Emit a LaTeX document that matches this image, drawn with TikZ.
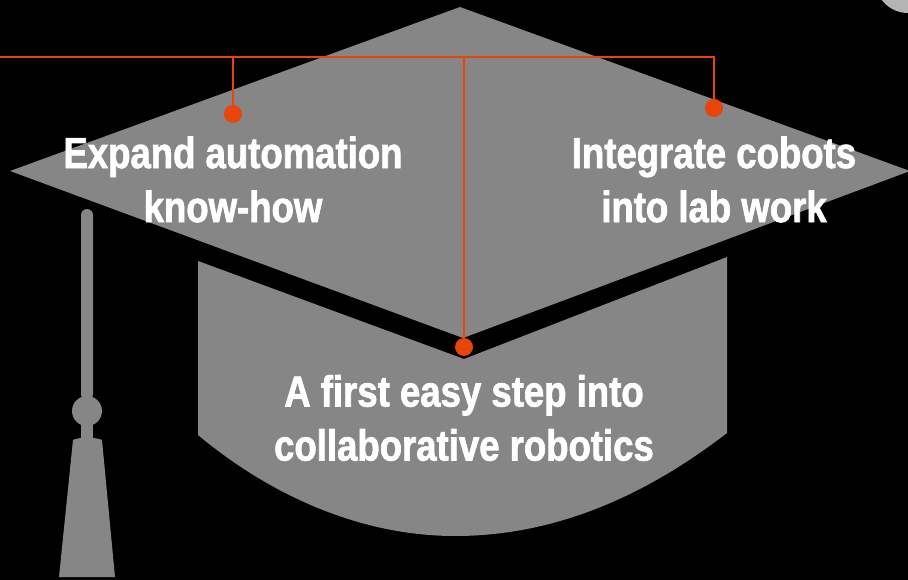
\documentclass[tikz,border=0pt]{standalone}
\usepackage{fontspec}
\setmainfont[BoldFeatures={FakeStretch=0.84,FakeBold=1.6}]{Liberation Sans}
\definecolor{capgray}{HTML}{868686}
\definecolor{discgray}{HTML}{B4B4B4}
\definecolor{leadorange}{HTML}{E8440C}
\tikzset{
    capshape/.style={fill=capgray,draw=none},
    leadline/.style={color=leadorange,line width=2.6pt},
    leaddot/.style={circle,fill=leadorange,draw=none,inner sep=0pt,minimum size=18pt},
    captext/.style={draw=none,text=white,align=center,font=\bfseries\fontsize{43.5}{54}\selectfont},
}

\begin{document}
\begin{tikzpicture}[x=1pt,y=-1pt]

\useasboundingbox (0,0) rectangle (908,580);
\fill[black] (0,0) rectangle (908,580);

% Cap board and body
\fill[capshape] (460,7) -- (910,171) -- (463,338) -- (10,171) -- cycle;
\fill[capshape] (198,261) -- (464,359) -- (727,257) -- (727,433) .. controls (640,500) and (550,536) .. (455,536) .. controls (360,536) and (270,495) .. (198,435) -- cycle;

% Tassel
\fill[capshape,rounded corners=6pt] (81,209) rectangle (93,400);
\fill[capshape] (87,411) circle (15);
\fill[capshape] (81,420) rectangle (93,440);
\fill[capshape] (59,577) -- (73,440) .. controls (78,437) and (96,437) .. (102,440) -- (115,577) -- cycle;

% Labels
\node [captext] (expand) at (233,179.5) {Expand automation\\know-how};
\node [captext] (integrate) at (714,179.5) {Integrate cobots\\into lab work};
\node [captext] (first) at (464,418) {A first easy step into\\collaborative robotics};

% Leader lines
\node [leaddot] (expanddot) at (233,114) {};
\node [leaddot] (integratedot) at (714,108) {};
\node [leaddot] (firstdot) at (464,347) {};
\coordinate (start) at (0,57);
\coordinate (expandturn) at (233,57);
\coordinate (firstturn) at (464,57);
\coordinate (integrateturn) at (714,57);
\draw[leadline] (start) -- (integrateturn) -- (integratedot);
\draw[leadline] (expandturn) -- (expanddot);
\draw[leadline] (firstturn) -- (firstdot);

% Corner disc
\fill[discgray] (908,-20) circle (33);

\end{tikzpicture}
\end{document}
